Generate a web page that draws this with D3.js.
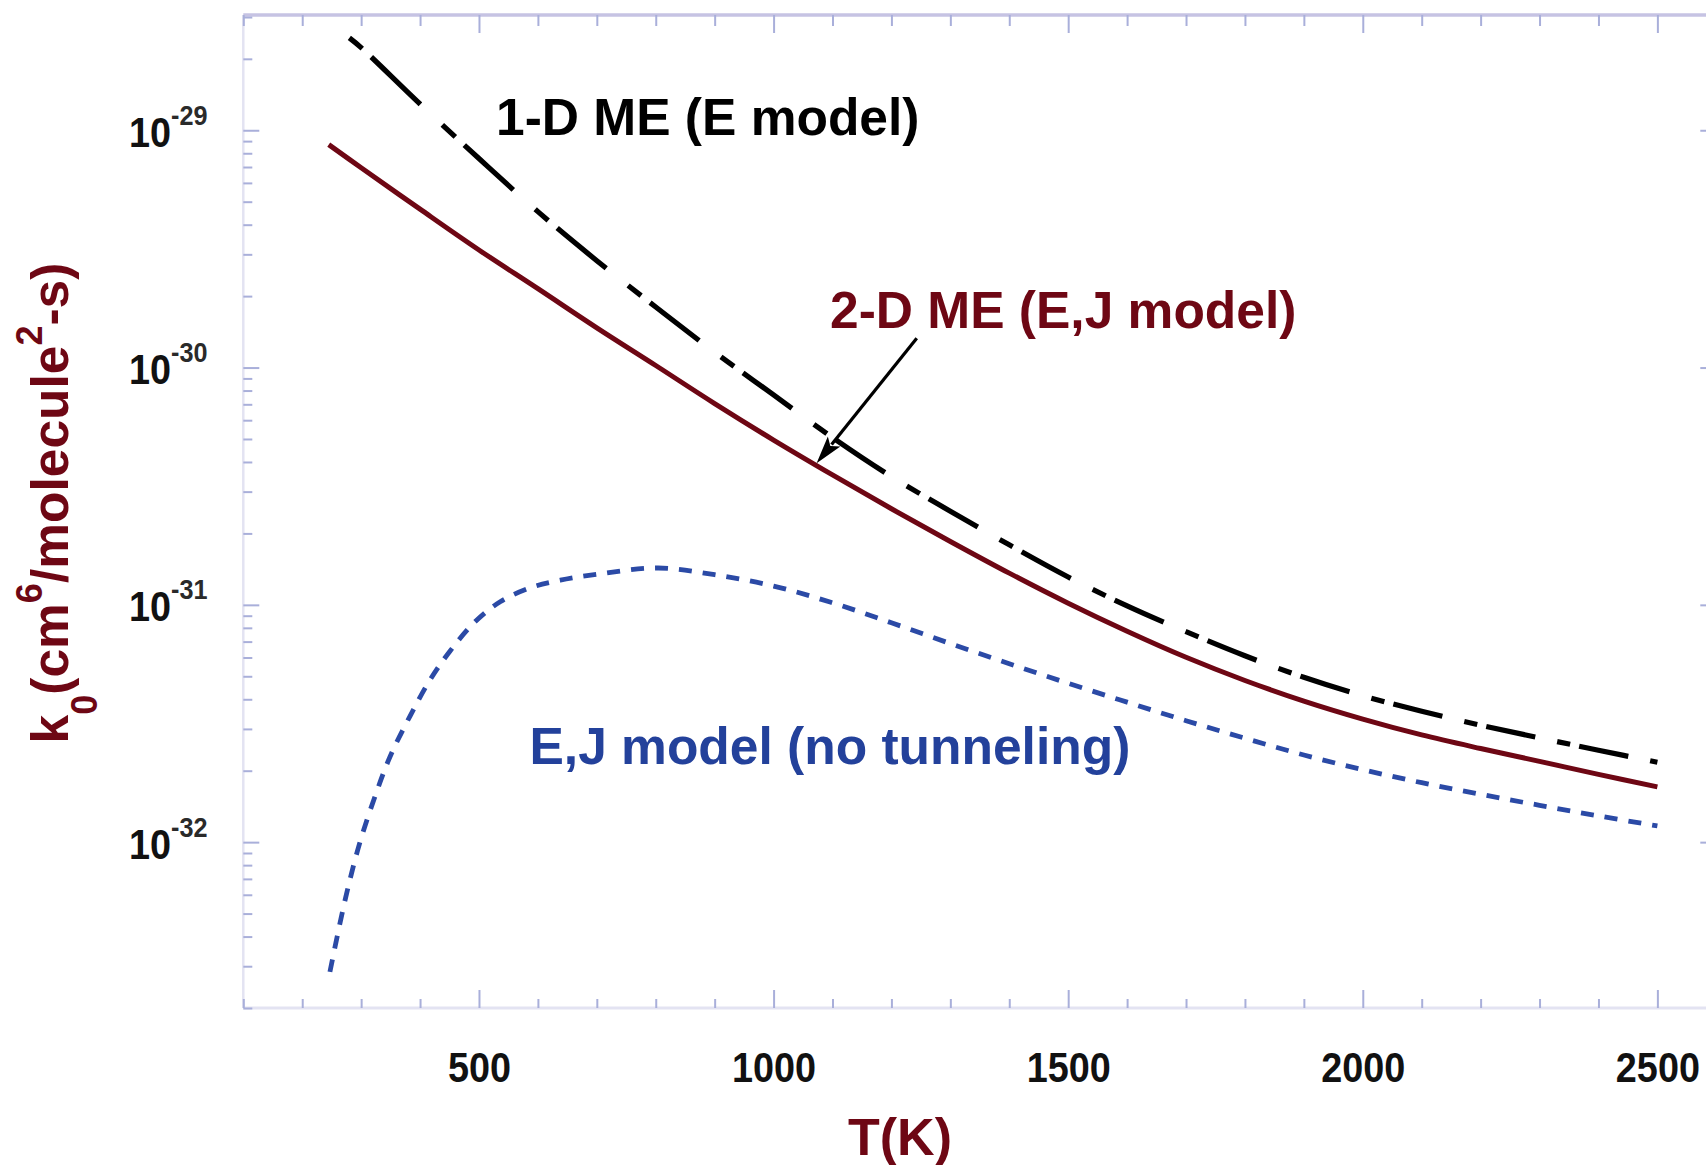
<!DOCTYPE html>
<html>
<head>
<meta charset="utf-8">
<script src="https://cdn.jsdelivr.net/npm/d3@7"></script>
<style>
  html, body { margin: 0; padding: 0; background: #ffffff; }
  svg { display: block; }
  text { font-family: "Liberation Sans", Arial, Helvetica, sans-serif; font-weight: bold; }
</style>
</head>
<body>
<svg id="chart" width="1706" height="1165"></svg>
<script>
// Low-pressure-limit rate constant k0 (cm^6 molecule^-2 s^-1) versus temperature T (K)

// 1-D master equation (E model)
const tempME1D = [280, 300, 400, 500, 600, 700, 800, 900, 1000, 1100, 1200, 1300, 1400,
                  1500, 1600, 1700, 1800, 1900, 2000, 2100, 2200, 2300, 2400, 2500];
const k0ME1D = [2.45e-29, 2.23e-29, 1.29e-29, 7.6e-30, 4.54e-30, 2.82e-30, 1.80e-30, 1.16e-30,
                7.67e-31, 5.07e-31, 3.47e-31, 2.48e-31, 1.79e-31, 1.31e-31, 9.9e-32, 7.71e-32,
                6.1e-32, 4.95e-32, 4.14e-32, 3.56e-32, 3.11e-32, 2.75e-32, 2.44e-32, 2.17e-32];

// 2-D master equation (E,J model)
const tempME2D = [245, 300, 400, 500, 600, 700, 800, 900, 1000, 1100, 1200, 1300, 1400,
                  1500, 1600, 1700, 1800, 1900, 2000, 2100, 2200, 2300, 2400, 2500];
const k0ME2D = [8.7e-30, 6.95e-30, 4.65e-30, 3.13e-30, 2.15e-30, 1.47e-30, 1.02e-30, 7.05e-31,
                4.95e-31, 3.53e-31, 2.54e-31, 1.85e-31, 1.36e-31, 1.016e-31, 7.74e-32, 6.01e-32,
                4.8e-32, 3.93e-32, 3.3e-32, 2.83e-32, 2.48e-32, 2.19e-32, 1.93e-32, 1.71e-32];

// E,J model without tunneling
const tempNoTunnel = [247, 274, 298, 324, 349, 383, 417, 451, 493, 536, 587, 638, 705, 804,
                      900, 1000, 1100, 1200, 1300, 1400, 1500, 1600, 1700, 1800, 1900, 2000,
                      2100, 2200, 2300, 2400, 2500];
const k0NoTunnel = [2.84e-33, 5.88e-33, 1.0e-32, 1.57e-32, 2.29e-32, 3.4e-32, 4.83e-32, 6.39e-32,
                    8.47e-32, 1.03e-31, 1.18e-31, 1.27e-31, 1.35e-31, 1.43e-31, 1.34e-31, 1.2e-31,
                    1.02e-31, 8.4e-32, 6.87e-32, 5.65e-32, 4.67e-32, 3.89e-32, 3.25e-32, 2.74e-32,
                    2.33e-32, 2.02e-32, 1.78e-32, 1.59e-32, 1.43e-32, 1.29e-32, 1.17e-32];

// Axis ticks and labels
const xMajorTicks = [500, 1000, 1500, 2000, 2500];
const yMajorTicks = [1e-29, 1e-30, 1e-31, 1e-32];
const yTickExponents = ["-29", "-30", "-31", "-32"];

// Arrow from the "2-D ME" label to its curve, in data units [T, k0]
const arrowFrom = [1243, 1.33e-30];
const arrowTo = [1073, 3.95e-31];

const colors = {
  me1d: "#000000",
  me2d: "#6e0714",
  noTunnel: "#2b4aa6",
  noTunnelText: "#23419b",
  frameTop: "#c6c3e3",
  frame: "#e3e3f2",
  tick: "#a9afda"
};

const svg = d3.select("#chart");
const plot = { left: 243.3, right: 1716.3, top: 15, bottom: 1008 };

const x = d3.scaleLinear().domain([100, 2600]).range([plot.left, plot.right]);
const y = d3.scaleLog().domain([2.0e-33, 3.06e-29]).range([plot.bottom, plot.top]);

// ---- frame lines ----
const frame = svg.append("g");
frame.append("line").attr("x1", plot.left).attr("x2", plot.right)
  .attr("y1", plot.top).attr("y2", plot.top)
  .attr("stroke", colors.frameTop).attr("stroke-width", 3.5);
frame.append("line").attr("x1", plot.left).attr("x2", plot.right)
  .attr("y1", plot.bottom).attr("y2", plot.bottom)
  .attr("stroke", colors.frame).attr("stroke-width", 3);
frame.append("line").attr("x1", plot.left).attr("x2", plot.left)
  .attr("y1", plot.top).attr("y2", plot.bottom)
  .attr("stroke", colors.frame).attr("stroke-width", 2.5);
frame.append("line").attr("x1", plot.right).attr("x2", plot.right)
  .attr("y1", plot.top).attr("y2", plot.bottom)
  .attr("stroke", colors.frame).attr("stroke-width", 2.5);

// ---- tick positions ----
const xMinorTicks = d3.range(100, 2601, 100).filter(v => !xMajorTicks.includes(v));
const yMinorTicks = [];
for (let e = -33; e <= -29; e++) {
  for (let m = 2; m <= 9; m++) {
    const v = m * Math.pow(10, e);
    if (v >= y.domain()[0] && v <= y.domain()[1]) yMinorTicks.push(v);
  }
}

function tidy(g) {
  g.select(".domain").remove();
  g.attr("font-size", null).attr("font-family", null);
  g.selectAll(".tick line").attr("stroke", colors.tick).attr("stroke-width", 2);
}

// bottom axis (ticks point inward)
svg.append("g").attr("transform", `translate(0,${plot.bottom})`)
  .call(d3.axisBottom(x).tickValues(xMinorTicks).tickSizeInner(-9).tickSizeOuter(0).tickFormat(""))
  .call(tidy);
const xAxisG = svg.append("g").attr("transform", `translate(0,${plot.bottom})`)
  .call(d3.axisBottom(x).tickValues(xMajorTicks).tickSizeInner(-18).tickSizeOuter(0)
    .tickFormat(d3.format("d")))
  .call(tidy);
xAxisG.selectAll(".tick text")
  .attr("y", 74).attr("dy", null)
  .attr("font-size", 42).attr("fill", "#111")
  .attr("transform", "scale(0.9,1)");

// top axis
svg.append("g").attr("transform", `translate(0,${plot.top})`)
  .call(d3.axisTop(x).tickValues(xMinorTicks).tickSizeInner(-11).tickSizeOuter(0).tickFormat(""))
  .call(tidy);
svg.append("g").attr("transform", `translate(0,${plot.top})`)
  .call(d3.axisTop(x).tickValues(xMajorTicks).tickSizeInner(-18).tickSizeOuter(0).tickFormat(""))
  .call(tidy);

// left axis
svg.append("g").attr("transform", `translate(${plot.left},0)`)
  .call(d3.axisLeft(y).tickValues(yMinorTicks).tickSizeInner(-9).tickSizeOuter(0).tickFormat(""))
  .call(tidy);
svg.append("g").attr("transform", `translate(${plot.left},0)`)
  .call(d3.axisLeft(y).tickValues(yMajorTicks).tickSizeInner(-16).tickSizeOuter(0).tickFormat(""))
  .call(tidy);

// right axis
svg.append("g").attr("transform", `translate(${plot.right},0)`)
  .call(d3.axisRight(y).tickValues(yMinorTicks).tickSizeInner(-9).tickSizeOuter(0).tickFormat(""))
  .call(tidy);
svg.append("g").attr("transform", `translate(${plot.right},0)`)
  .call(d3.axisRight(y).tickValues(yMajorTicks).tickSizeInner(-16).tickSizeOuter(0).tickFormat(""))
  .call(tidy);

// y tick labels as powers of ten
const yLabels = svg.append("g");
yMajorTicks.forEach((v, i) => {
  const t = yLabels.append("text")
    .attr("transform", `translate(207.5,${y(v) + 16.5}) scale(0.9,1)`)
    .attr("text-anchor", "end")
    .attr("fill", "#111");
  t.append("tspan").attr("font-size", 42).text("10");
  t.append("tspan").attr("font-size", 28).attr("dy", -22).attr("fill", "#2a2a2a")
    .text(yTickExponents[i]);
});

// ---- curves ----
const line = d3.line()
  .x(d => x(d[0]))
  .y(d => y(d[1]))
  .curve(d3.curveCatmullRom.alpha(0.5));

const ptsME2D = tempME2D.map((t, i) => [t, k0ME2D[i]]);
const ptsME1D = tempME1D.map((t, i) => [t, k0ME1D[i]]);
const ptsNoTunnel = tempNoTunnel.map((t, i) => [t, k0NoTunnel[i]]);

svg.append("path").datum(ptsNoTunnel)
  .attr("d", line)
  .attr("fill", "none")
  .attr("stroke", colors.noTunnel)
  .attr("stroke-width", 4.8)
  .attr("stroke-dasharray", "13,11");

svg.append("path").datum(ptsME2D)
  .attr("d", line)
  .attr("fill", "none")
  .attr("stroke", colors.me2d)
  .attr("stroke-width", 5);

const me1dPath = svg.append("path").datum(ptsME1D)
  .attr("d", line)
  .attr("fill", "none")
  .attr("stroke", colors.me1d)
  .attr("stroke-width", 5.2);

// dash-dot pattern that repeats at a fixed horizontal pitch along the curve
function horizontalPitchDashes(node, period, offsets) {
  const total = node.getTotalLength();
  const samples = [];
  for (let l = 0; l < total; l += 0.5) samples.push({ l, x: node.getPointAtLength(l).x });
  samples.push({ l: total, x: node.getPointAtLength(total).x });
  const x0 = samples[0].x;
  const xEnd = samples[samples.length - 1].x;
  const bis = d3.bisector(d => d.x).left;
  const lenAt = xq => {
    if (xq <= x0) return 0;
    if (xq >= xEnd) return total;
    const i = bis(samples, xq);
    const a = samples[i - 1], b = samples[i];
    return a.l + (b.l - a.l) * (xq - a.x) / ((b.x - a.x) || 1);
  };
  const cuts = [];
  for (let k = 0; x0 + k * period < xEnd; k++) {
    offsets.forEach(o => cuts.push(lenAt(Math.min(x0 + k * period + o, xEnd))));
  }
  cuts.push(total);
  const arr = [];
  for (let i = 1; i < cuts.length; i++) arr.push(Math.max(0, cuts[i] - cuts[i - 1]));
  if (arr.length % 2 === 1) arr.push(total); else arr.push(0, total);
  return arr.map(v => v.toFixed(2)).join(",");
}
me1dPath.attr("stroke-dasharray", horizontalPitchDashes(me1dPath.node(), 92.9, [0, 13, 22, 71]));

// ---- arrow ----
const pFrom = [x(arrowFrom[0]), y(arrowFrom[1])];
const pTo = [x(arrowTo[0]), y(arrowTo[1])];
const dx = pTo[0] - pFrom[0], dy = pTo[1] - pFrom[1];
const len = Math.hypot(dx, dy);
const ux = dx / len, uy = dy / len;
const headLen = 28, headHalf = 8;
const base = [pTo[0] - ux * headLen, pTo[1] - uy * headLen];
svg.append("line")
  .attr("x1", pFrom[0]).attr("y1", pFrom[1])
  .attr("x2", base[0] + ux * 4).attr("y2", base[1] + uy * 4)
  .attr("stroke", "#000").attr("stroke-width", 3.2);
svg.append("path")
  .attr("d", d3.line()([
    pTo,
    [base[0] - uy * headHalf, base[1] + ux * headHalf],
    [base[0] + ux * 6, base[1] + uy * 6],
    [base[0] + uy * headHalf, base[1] - ux * headHalf]
  ]) + "Z")
  .attr("fill", "#000");

// ---- series labels ----
svg.append("text").attr("x", 496).attr("y", 135)
  .attr("font-size", 51.5).attr("fill", colors.me1d)
  .text("1-D ME (E model)");
svg.append("text").attr("x", 830).attr("y", 328)
  .attr("font-size", 51.5).attr("fill", colors.me2d)
  .text("2-D ME (E,J model)");
svg.append("text").attr("x", 529.5).attr("y", 764)
  .attr("font-size", 51.5).attr("fill", colors.noTunnelText)
  .text("E,J model (no tunneling)");

// ---- axis titles ----
svg.append("text").attr("x", 900).attr("y", 1155)
  .attr("text-anchor", "middle").attr("font-size", 52).attr("fill", colors.me2d)
  .text("T(K)");

const yTitle = svg.append("text")
  .attr("transform", "translate(68,503) rotate(-90)")
  .attr("text-anchor", "middle")
  .attr("font-size", 51.5)
  .attr("fill", colors.me2d);
yTitle.append("tspan").text("k");
yTitle.append("tspan").attr("font-size", 36).attr("dy", 29).text("0");
yTitle.append("tspan").attr("dy", -29).text("(cm");
yTitle.append("tspan").attr("font-size", 36).attr("dy", -26).text("6");
yTitle.append("tspan").attr("dy", 26).text("/molecule");
yTitle.append("tspan").attr("font-size", 36).attr("dy", -26).text("2");
yTitle.append("tspan").attr("dy", 26).text("-s)");
</script>
</body>
</html>
